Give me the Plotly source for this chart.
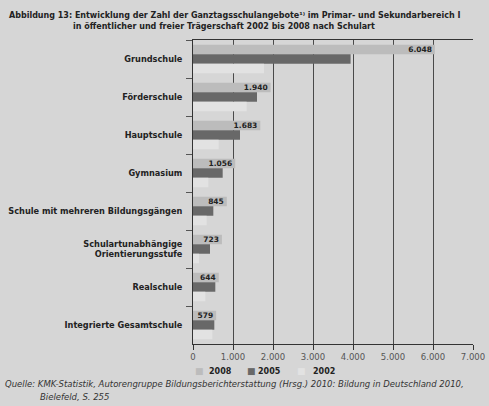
import plotly.graph_objects as go

categories = [
    "Grundschule",
    "Förderschule",
    "Hauptschule",
    "Gymnasium",
    "Schule mit mehreren Bildungsgängen",
    "Schulartunabhängige<br>Orientierungsstufe",
    "Realschule",
    "Integrierte Gesamtschule",
]
values_2008 = [6048, 1940, 1683, 1056, 845, 723, 644, 579]
values_2005 = [3940, 1600, 1175, 742, 508, 425, 558, 533]
values_2002 = [1775, 1342, 642, 383, 342, 150, 308, 483]
labels_2008 = ["6.048", "1.940", "1.683", "1.056", "845", "723", "644", "579"]
x_ticks = [0, 1000, 2000, 3000, 4000, 5000, 6000, 7000]
x_tick_labels = ["0", "1.000", "2.000", "3.000", "4.000", "5.000", "6.000", "7.000"]
series_names = ["2008", "2005", "2002"]
series_colors = ["#bcbcbc", "#686868", "#e2e2e2"]

BG = "#d6d6d6"
WFONT = "DejaVu Sans"

fig = go.Figure()
fig.add_trace(go.Bar(
    name=series_names[0], y=categories, x=values_2008, orientation="h",
    marker=dict(color=series_colors[0], line=dict(width=0)),
    text=labels_2008, textposition="inside", insidetextanchor="end",
    textfont=dict(family=WFONT, size=7.5, color="#222222", weight="bold"),
    cliponaxis=False, showlegend=False,
))
fig.add_trace(go.Bar(
    name=series_names[1], y=categories, x=values_2005, orientation="h",
    marker=dict(color=series_colors[1], line=dict(width=0)), showlegend=False,
))
fig.add_trace(go.Bar(
    name=series_names[2], y=categories, x=values_2002, orientation="h",
    marker=dict(color=series_colors[2], line=dict(width=0)), showlegend=False,
))

W, H = 489, 406
L, R, T, B = 193, 16, 40, 62
pw, ph = W - L - R, H - T - B

def px(x):
    return (x - L) / pw

def py(y):
    return (H - B - y) / ph

annotations = [
    dict(text="Abbildung 13: Entwicklung der Zahl der Ganztagsschulangebote¹⁾ im Primar- und Sekundarbereich I",
         x=px(7), y=py(15), xanchor="left", yanchor="middle"),
    dict(text="in öffentlicher und freier Trägerschaft 2002 bis 2008 nach Schulart",
         x=px(71), y=py(26), xanchor="left", yanchor="middle"),
]
for a in annotations:
    a.update(xref="paper", yref="paper", showarrow=False,
             font=dict(family=WFONT, size=8, color="#222222", weight="bold"))

src = [
    ("Quelle: KMK-Statistik, Autorengruppe Bildungsberichterstattung (Hrsg.) 2010: Bildung in Deutschland 2010,", 3, 384),
    ("Bielefeld, S. 255", 38, 397),
]
for t, x, y in src:
    annotations.append(dict(text="<i>" + t + "</i>", x=px(x), y=py(y), xref="paper", yref="paper",
                            xanchor="left", yanchor="middle", showarrow=False,
                            font=dict(family=WFONT, size=8.5, color="#333333")))

# legend built from text: colored square glyph + year label
legend_sq_x = [193, 245, 295]
legend_tx_x = [207, 256, 311]
for name, col, sx, tx in zip(series_names, series_colors, legend_sq_x, legend_tx_x):
    annotations.append(dict(text="■", x=px(sx), y=py(371), xref="paper", yref="paper",
                            xanchor="left", yanchor="middle", showarrow=False,
                            font=dict(family=WFONT, size=9, color=col)))
    annotations.append(dict(text=name, x=px(tx), y=py(371), xref="paper", yref="paper",
                            xanchor="left", yanchor="middle", showarrow=False,
                            font=dict(family=WFONT, size=8, color="#222222", weight="bold")))

fig.update_layout(
    width=W, height=H,
    margin=dict(l=L, r=R, t=T, b=B, autoexpand=False),
    paper_bgcolor=BG, plot_bgcolor=BG,
    barmode="group", bargap=0.25, bargroupgap=0,
    uniformtext=dict(minsize=7.5, mode="show"),
    showlegend=False,
    annotations=annotations,
    font=dict(family=WFONT),
)
fig.update_xaxes(
    range=[0, 7000], tickvals=x_ticks, ticktext=x_tick_labels,
    showgrid=True, gridcolor="#4a4a4a", gridwidth=1,
    showline=True, linecolor="#333333", linewidth=1, mirror=True,
    ticks="outside", ticklen=5, tickcolor="#333333",
    tickfont=dict(family=WFONT, size=8.5, color="#555555"),
    zeroline=False, automargin=False,
)
fig.update_yaxes(
    autorange="reversed", showline=True, linecolor="#333333", linewidth=1,
    ticks="outside", tickson="boundaries", ticklen=6, tickcolor="#555555",
    tickfont=dict(family=WFONT, size=8.2, color="#222222", weight="bold"),
    showgrid=False, ticklabelstandoff=8, automargin=False,
)

fig.write_html("out.html", post_script="document.body.style.margin='0';",
               config={"displayModeBar": False})
